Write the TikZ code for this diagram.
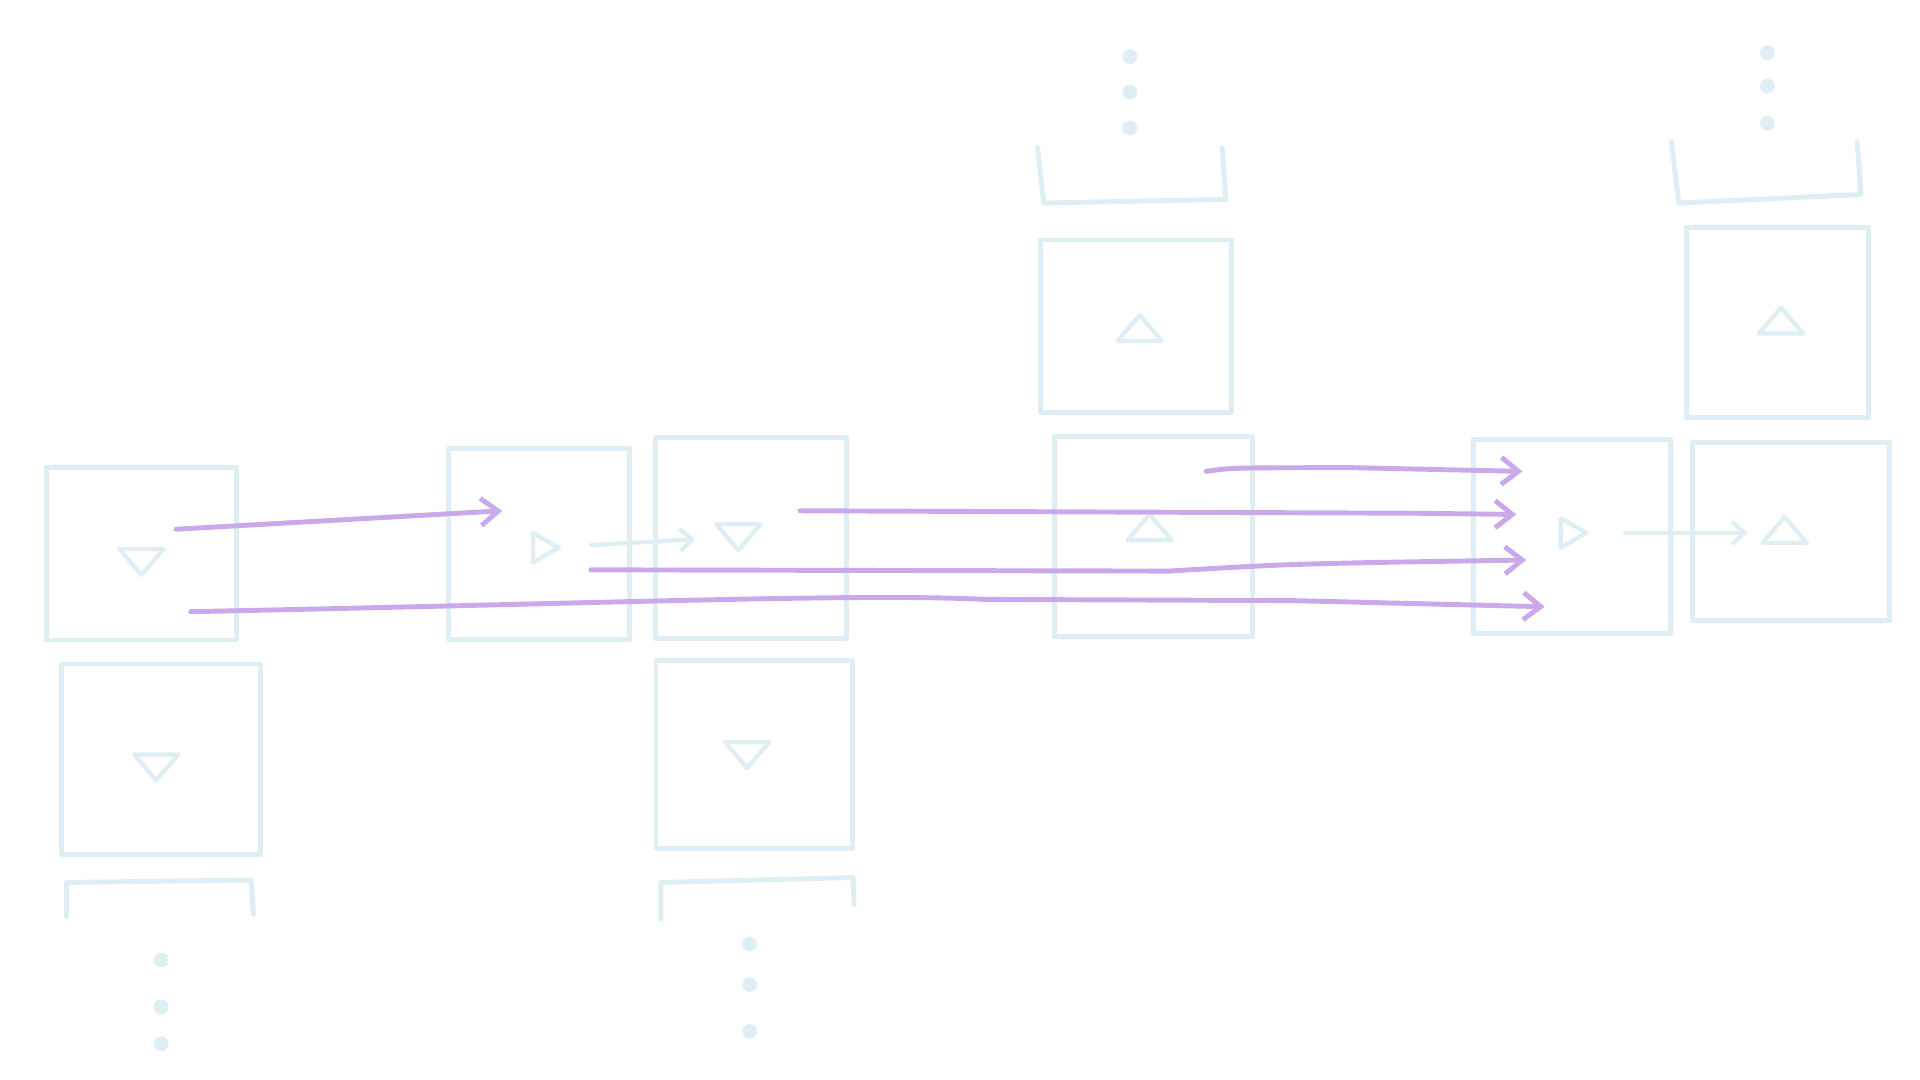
\documentclass[tikz,border=0pt]{standalone}
\usetikzlibrary{arrows.meta}
\definecolor{lb}{HTML}{DFEDF5}
\definecolor{pu}{HTML}{C9A9E9}
\tikzset{x=1pt,y=-1pt,
 cell/.style={draw=lb,line width=4pt,line join=round,line cap=round},
 tri/.style={draw=lb,line width=3.5pt,line join=round},
 dotc/.style={fill=lb},
 lbarrow/.style={draw=lb,line width=3.5pt,line cap=round,-{Straight Barb[length=10pt,width=18pt]}},
 purrow/.style={draw=pu,line width=4pt,line cap=round,-{Straight Barb[length=14pt,width=22pt]}}}
\newcommand{\trid}[2]{\draw[tri] (#1-18,#2-9) -- (#1+18,#2-9) -- (#1,#2+12) -- cycle;}
\newcommand{\triu}[2]{\draw[tri] (#1-18,#2+9) -- (#1+18,#2+9) -- (#1,#2-12) -- cycle;}
\newcommand{\trir}[2]{\draw[tri] (#1-9,#2-12) -- (#1-9,#2+12) -- (#1+12,#2) -- cycle;}
\begin{document}
\begin{tikzpicture}
\useasboundingbox (0,0) rectangle (1560,877.5);
% column 1
\node[cell,minimum width=154pt,minimum height=140pt] (A) at (115,450) {};
\trid{115}{455}
\node[cell,minimum width=162pt,minimum height=155pt] (B) at (131,617) {};
\trid{127}{622}
\draw[cell] (54,745) -- (54,717) -- (204,715) -- (206,743);
\foreach \y in {780,818,848} \fill[dotc] (131,\y) circle (6pt);
% column 2
\node[cell,minimum width=147pt,minimum height=155pt] (C) at (438,442) {};
\trir{442}{445}
\node[cell,minimum width=155pt,minimum height=163pt] (D) at (610,437) {};
\trid{600}{435}
\node[cell,minimum width=160pt,minimum height=153pt] (E) at (613,613) {};
\trid{607}{612}
\draw[cell] (537,747) -- (537,717) -- (693,713) -- (694,735);
\foreach \y in {767,800,838} \fill[dotc] (609,\y) circle (6pt);
% column 4
\foreach \y in {46,75,104} \fill[dotc] (918,\y) circle (6pt);
\draw[cell] (843,120) -- (848,165) -- (996,162) -- (993,120);
\node[cell,minimum width=155pt,minimum height=140pt] (F) at (923,265) {};
\triu{926}{268}
\node[cell,minimum width=161pt,minimum height=162pt] (G) at (937,436) {};
\triu{934}{430}
% column 5/6
\node[cell,minimum width=160pt,minimum height=158pt] (H) at (1277,436) {};
\trir{1277}{433}
\node[cell,minimum width=160pt,minimum height=145pt] (I) at (1455,432) {};
\triu{1450}{432}
\node[cell,minimum width=148pt,minimum height=155pt] (J) at (1444,262) {};
\triu{1447}{262}
\draw[cell] (1358,115) -- (1364,165) -- (1512,158) -- (1509,115);
\foreach \y in {43,70,100} \fill[dotc] (1436,\y) circle (6pt);
% light arrows
\coordinate (c1) at (480,443); \coordinate (c2) at (565,438);
\draw[lbarrow] (c1) -- (c2);
\coordinate (h1) at (1320,433); \coordinate (h2) at (1420,433);
\draw[lbarrow] (h1) -- (h2);
% purple arrows
\coordinate (p1) at (143,430); \coordinate (q1) at (408,415);
\draw[purrow] (p1) -- (q1);
\coordinate (p2) at (155,497); \coordinate (q2) at (1255,493);
\draw[purrow] (p2) .. controls (500,490) and (700,482) .. (800,487) -- (1050,488) .. controls (1150,490) .. (q2);
\coordinate (p3) at (480,463); \coordinate (q3) at (1240,455);
\draw[purrow] (p3) -- (950,464) .. controls (1050,458) .. (q3);
\coordinate (p4) at (650,415); \coordinate (q4) at (1232,418);
\draw[purrow] (p4) -- (1150,417) -- (q4);
\coordinate (p5) at (980,383); \coordinate (q5) at (1237,383);
\draw[purrow] (p5) .. controls (1000,380) .. (1100,380) -- (q5);
\end{tikzpicture}
\end{document}
